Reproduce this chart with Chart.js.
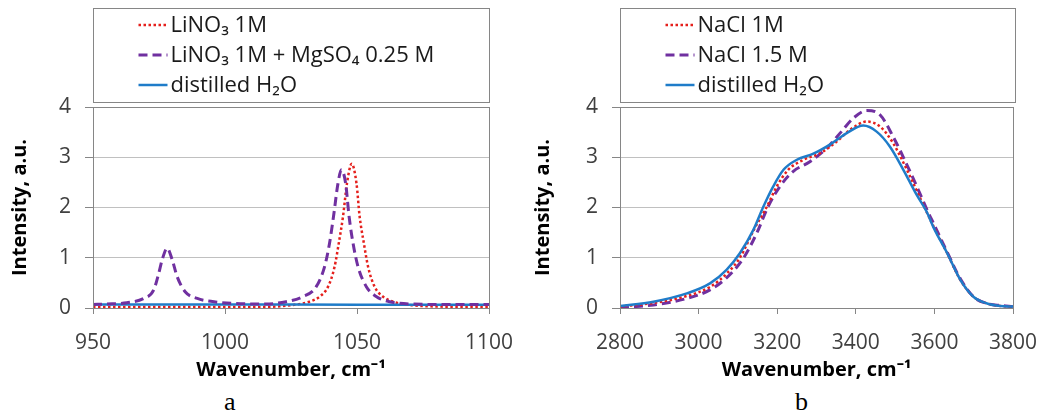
<!DOCTYPE html>
<html>
<head>
<meta charset="utf-8">
<script src="https://cdn.jsdelivr.net/npm/chart.js@4.4.1/dist/chart.umd.min.js"></script>
<style>
  html, body { margin: 0; padding: 0; background: #fff; }
  body { width: 1046px; height: 415px; position: relative; overflow: hidden; }
  canvas { position: absolute; top: 0; }
  #chartA { left: 0; }
  #chartB { left: 523px; }
  .sub { position: absolute; top: 389px; line-height: 26px; font-size: 26px; font-family: 'Liberation Serif', 'Times New Roman', serif; color: #000; }
</style>
</head>
<body>
<canvas id="chartA" width="523" height="385"></canvas>
<canvas id="chartB" width="523" height="385"></canvas>
<div class="sub" style="left:224px">a</div>
<div class="sub" style="left:795px">b</div>
<script>
// panel a: 950-1100 cm-1
const xTicksA = [950, 1000, 1050, 1100];
const linoX = [950, 980, 1010, 1020, 1025.6, 1032, 1035.8, 1039, 1041.5, 1043.1, 1044.7, 1046.2, 1048, 1049.8, 1051, 1052.6, 1054.2, 1056.7, 1059.9, 1063.7, 1070, 1080, 1100];
const linoY = [0.02, 0.02, 0.02, 0.03, 0.06, 0.125, 0.225, 0.42, 0.82, 1.29, 1.82, 2.48, 2.87, 2.48, 1.82, 1.29, 0.82, 0.42, 0.225, 0.125, 0.06, 0.03, 0.02];
const linoMgX = [950, 955.2, 962.8, 969.2, 973, 974.9, 976.2, 978.1, 980, 981.9, 985, 989.5, 995.8, 1003.4, 1015.5, 1023.1, 1029.4, 1034.5, 1037.7, 1039.6, 1041.1, 1042.8, 1044.1, 1045.7, 1047, 1048.5, 1050.4, 1053.6, 1057.4, 1062.5, 1070, 1085, 1100];
const linoMgY = [0.07, 0.08, 0.105, 0.19, 0.36, 0.69, 0.96, 1.19, 0.96, 0.62, 0.32, 0.19, 0.125, 0.09, 0.08, 0.125, 0.225, 0.42, 0.82, 1.29, 1.82, 2.48, 2.75, 2.48, 1.82, 1.29, 0.82, 0.42, 0.225, 0.125, 0.08, 0.07, 0.07];
const waterAX = [950, 1000, 1050, 1100];
const waterAY = [0.07, 0.07, 0.065, 0.065];

// panel b: 2800-3800 cm-1
const xTicksB = [2800, 3000, 3200, 3400, 3600, 3800];
const nacl1X = [2800, 2885, 2970, 3029, 3071, 3105, 3143, 3174, 3199, 3228, 3267, 3309, 3351, 3386, 3428, 3462, 3495, 3530, 3563, 3598, 3632, 3666, 3700, 3734, 3768, 3800];
const nacl1Y = [0.03, 0.1, 0.24, 0.42, 0.68, 1.0, 1.59, 2.02, 2.42, 2.75, 2.95, 3.08, 3.31, 3.55, 3.71, 3.61, 3.28, 2.75, 2.2, 1.62, 1.1, 0.56, 0.22, 0.09, 0.04, 0.03];
const nacl15X = [2800, 2885, 2970, 3029, 3071, 3114, 3148, 3177, 3207, 3241, 3283, 3326, 3360, 3394, 3428, 3462, 3495, 3530, 3563, 3585, 3598, 3632, 3666, 3700, 3734, 3768, 3800];
const nacl15Y = [0.01, 0.06, 0.19, 0.36, 0.6, 0.99, 1.49, 2.02, 2.42, 2.72, 2.91, 3.18, 3.48, 3.78, 3.93, 3.84, 3.41, 2.85, 2.28, 1.89, 1.68, 1.12, 0.58, 0.22, 0.09, 0.05, 0.03];
const waterBX = [2800, 2885, 2970, 3029, 3071, 3105, 3139, 3165, 3190, 3216, 3250, 3292, 3334, 3377, 3419, 3453, 3487, 3521, 3555, 3580, 3598, 3632, 3666, 3700, 3734, 3768, 3800];
const waterBY = [0.04, 0.125, 0.29, 0.49, 0.76, 1.09, 1.55, 2.02, 2.42, 2.75, 2.95, 3.07, 3.25, 3.48, 3.63, 3.51, 3.21, 2.75, 2.25, 1.92, 1.6, 1.1, 0.56, 0.22, 0.09, 0.04, 0.03];

const yTicks = [0, 1, 2, 3, 4];

const RED = '#e5201c', PURPLE = '#7030a0', BLUE = '#1f7cc9', AXIS = '#868686';

Chart.defaults.font.family = "'Open Sans', sans-serif";

const pts = (xs, ys) => xs.map((x, i) => ({ x, y: ys[i] }));

// grey frame round the plot area
const framePlugin = {
  id: 'frame',
  afterDatasetsDraw(chart) {
    const { ctx, chartArea: a } = chart;
    ctx.save();
    ctx.strokeStyle = AXIS;
    ctx.lineWidth = 1;
    ctx.strokeRect(Math.round(a.left) + 0.5, Math.round(a.top) + 0.5, Math.round(a.right - a.left), Math.round(a.bottom - a.top));
    ctx.restore();
  }
};

// boxed legend above the plot, one entry per row
const boxLegend = {
  id: 'boxLegend',
  afterDraw(chart, args, opts) {
    const { ctx, chartArea: a } = chart;
    const left = Math.round(a.left) + 0.5;
    ctx.save();
    ctx.strokeStyle = AXIS;
    ctx.lineWidth = 1;
    ctx.strokeRect(left, opts.top + 0.5, opts.width, opts.height);
    ctx.font = '22px "Open Sans"';
    ctx.textBaseline = 'middle';
    ctx.fillStyle = '#1a1a1a';
    chart.data.datasets.forEach((ds, i) => {
      const y = opts.rows[i];
      ctx.beginPath();
      ctx.setLineDash(ds.borderDash || []);
      ctx.lineWidth = ds.borderWidth;
      ctx.strokeStyle = ds.borderColor;
      ctx.moveTo(left + opts.sample[0], y);
      ctx.lineTo(left + opts.sample[1], y);
      ctx.stroke();
      ctx.setLineDash([]);
      ctx.fillText(ds.label, left + opts.textX, y + 1);
    });
    ctx.restore();
  }
};

function line(label, xs, ys, color, dash, width, order) {
  return {
    label,
    data: pts(xs, ys),
    borderColor: color,
    borderDash: dash,
    borderWidth: width,
    pointRadius: 0,
    fill: false,
    cubicInterpolationMode: 'monotone',
    order,
  };
}

function makeChart(id, datasets, xTicks, yWidth, padRight, legendWidth) {
  const ctx = document.getElementById(id).getContext('2d');
  return new Chart(ctx, {
    type: 'line',
    data: { datasets },
    plugins: [framePlugin, boxLegend],
    options: {
      responsive: false,
      animation: false,
      layout: { padding: { left: 0, top: 107, right: padRight, bottom: 0 } },
      plugins: {
        legend: { display: false },
        tooltip: { enabled: false },
        boxLegend: { top: 8, height: 94, width: legendWidth, rows: [25, 55, 85], sample: [45, 74], textX: 77 },
      },
      scales: {
        x: {
          type: 'linear',
          min: xTicks[0],
          max: xTicks[xTicks.length - 1],
          afterBuildTicks: s => { s.ticks = xTicks.map(v => ({ value: v })); },
          afterFit: s => { s.height = 77; s.paddingLeft = 0; s.paddingRight = 0; },
          ticks: { font: { size: 21 }, color: '#404040', padding: 16, maxRotation: 0, callback: v => String(v) },
          grid: { drawOnChartArea: false, tickLength: 6, color: AXIS, tickColor: AXIS },
          border: { color: AXIS, width: 1 },
          title: { display: true, text: 'Wavenumber, cm⁻¹', font: { size: 20, weight: 'bold' }, color: '#000', padding: { top: 0, bottom: 3 } },
        },
        y: {
          min: 0,
          max: 4,
          afterBuildTicks: s => { s.ticks = yTicks.map(v => ({ value: v })); },
          afterFit: s => { s.width = yWidth; },
          ticks: { font: { size: 21 }, color: '#404040', padding: 14, callback: v => String(v) },
          grid: { color: '#c0c0c0', tickLength: 8, tickColor: AXIS },
          border: { color: AXIS, width: 1 },
          title: { display: true, text: 'Intensity, a.u.', font: { size: 20, weight: 'bold' }, color: '#000', padding: { top: 8, bottom: 0 } },
        },
      },
    },
  });
}

makeChart('chartA', [
  line('LiNO₃ 1M', linoX, linoY, RED, [2.5, 2.5], 2.5, 2),
  line('LiNO₃ 1M + MgSO₄ 0.25 M', linoMgX, linoMgY, PURPLE, [9, 5], 3, 0),
  line('distilled H₂O', waterAX, waterAY, BLUE, [], 2.5, 1),
], xTicksA, 93, 34, 396);

makeChart('chartB', [
  line('NaCl 1M', nacl1X, nacl1Y, RED, [2.5, 2.5], 2.5, 1),
  line('NaCl 1.5 M', nacl15X, nacl15Y, PURPLE, [9, 5], 3, 2),
  line('distilled H₂O', waterBX, waterBY, BLUE, [], 2.5, 0),
], xTicksB, 97, 33, 395);
</script>
</body>
</html>
